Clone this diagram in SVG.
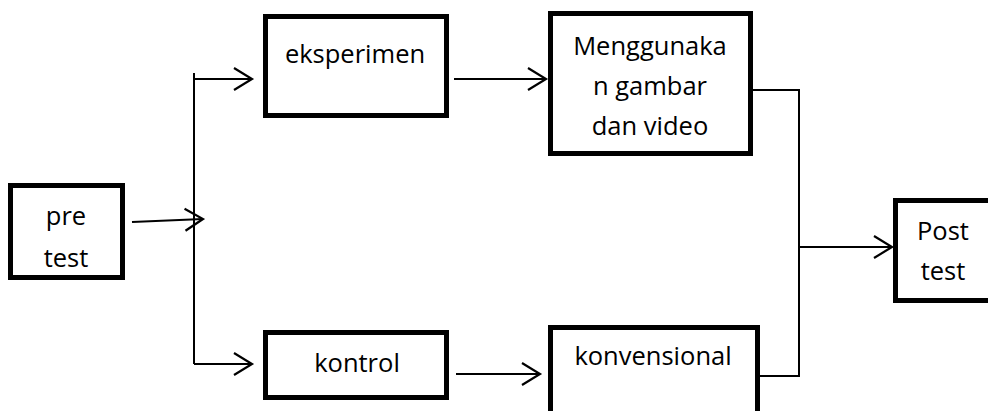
<svg xmlns="http://www.w3.org/2000/svg" width="988" height="411" viewBox="0 0 988 411">
<defs>
<style>
.box{fill:#fff;stroke:#000;stroke-width:5}
.ln{fill:none;stroke:#000;stroke-width:2}
.t{font-family:"Open Sans","Noto Sans",sans-serif;font-size:25.5px;fill:#000;text-anchor:middle}
</style>
<marker id="arr" markerUnits="userSpaceOnUse" markerWidth="24" markerHeight="26" viewBox="-20 -13 24 26" refX="0" refY="0" orient="auto">
<path d="M-18,-11 L0,0 L-18,11" fill="none" stroke="#000" stroke-width="2.2"/>
</marker>
</defs>
<g id="connectors">
<path class="ln" d="M132,222 L203,219" marker-end="url(#arr)"/>
<path class="ln" d="M194,73 L194,364"/>
<path class="ln" d="M194,79 L252,79" marker-end="url(#arr)"/>
<path class="ln" d="M194,364 L252,364" marker-end="url(#arr)"/>
<path class="ln" d="M454,79 L546,79" marker-end="url(#arr)"/>
<path class="ln" d="M456,374 L540,374" marker-end="url(#arr)"/>
<path class="ln" d="M753,90 L799,90 L799,376 L760,376"/>
<path class="ln" d="M799,247 L892,247" marker-end="url(#arr)"/>
</g>
<g id="pretest">
<rect class="box" x="10.5" y="185.5" width="112" height="92"/>
<text class="t" x="66" y="225">pre</text>
<text class="t" x="66" y="267">test</text>
</g>
<g id="eksperimen">
<rect class="box" x="265.5" y="16.5" width="181" height="99"/>
<text class="t" x="355" y="63">eksperimen</text>
</g>
<g id="menggunakan">
<rect class="box" x="550.5" y="13.5" width="200" height="140"/>
<text class="t" x="650" y="55">Menggunaka</text>
<text class="t" x="650" y="95">n gambar</text>
<text class="t" x="650" y="135">dan video</text>
</g>
<g id="kontrol">
<rect class="box" x="265.5" y="332.5" width="181" height="65"/>
<text class="t" x="357" y="372">kontrol</text>
</g>
<g id="konvensional">
<rect class="box" x="550.5" y="327.5" width="207" height="100"/>
<text class="t" x="653" y="365">konvensional</text>
</g>
<g id="posttest">
<rect class="box" x="895.5" y="200.5" width="110" height="100"/>
<text class="t" x="943" y="240">Post</text>
<text class="t" x="943" y="280">test</text>
</g>
</svg>
